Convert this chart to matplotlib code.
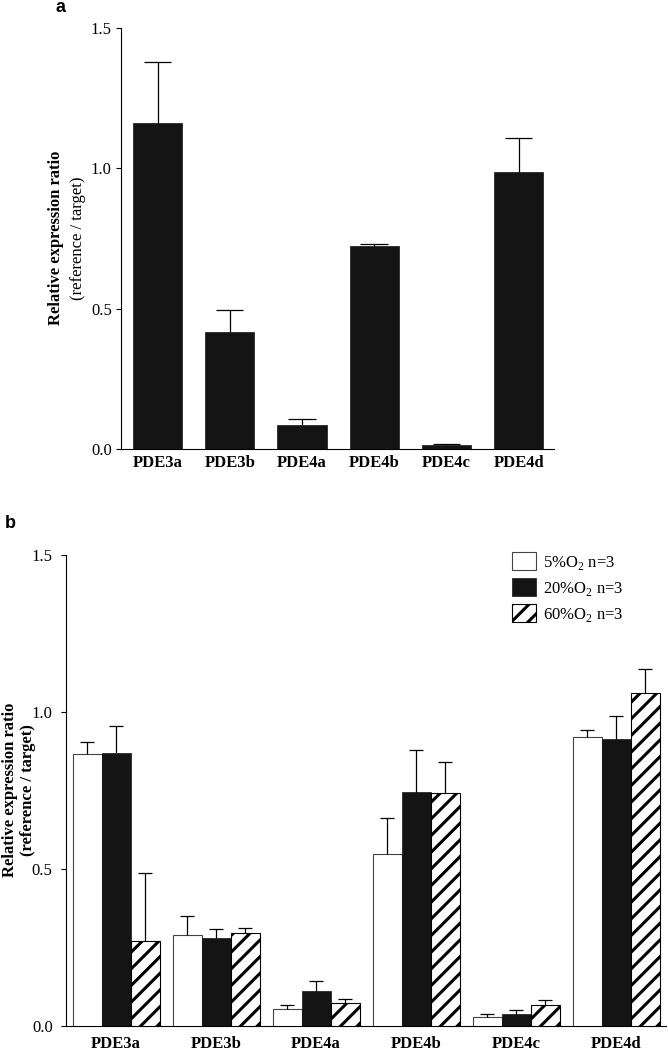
import numpy as np
import matplotlib
matplotlib.use('Agg')
import matplotlib.pyplot as plt

plt.rcParams['font.family'] = ['Liberation Serif', 'DejaVu Serif']
plt.rcParams['hatch.linewidth'] = 2.2

genes = ['PDE3a', 'PDE3b', 'PDE4a', 'PDE4b', 'PDE4c', 'PDE4d']

# panel a: single series with upper error
ratio_a = [1.161, 0.417, 0.085, 0.723, 0.014, 0.987]
err_a = [0.218, 0.078, 0.022, 0.006, 0.005, 0.120]

# panel b: three oxygen conditions
ratio_5 = [0.865, 0.290, 0.054, 0.549, 0.030, 0.919]
err_5 = [0.038, 0.060, 0.012, 0.113, 0.008, 0.024]
ratio_20 = [0.870, 0.281, 0.111, 0.745, 0.038, 0.915]
err_20 = [0.084, 0.028, 0.031, 0.134, 0.012, 0.071]
ratio_60 = [0.272, 0.295, 0.072, 0.742, 0.068, 1.062]
err_60 = [0.214, 0.016, 0.014, 0.099, 0.016, 0.076]

labels_b = [r'5%O$_\mathregular{2}$ n=3', r'20%O$_\mathregular{2}$ n=3', r'60%O$_\mathregular{2}$ n=3']
yticks = [0.0, 0.5, 1.0, 1.5]

W, H = 668, 1050
fig = plt.figure(figsize=(W / 100, H / 100), dpi=100)


def style_axis(ax, pad_y, pad_x):
    ax.spines['top'].set_visible(False)
    ax.spines['right'].set_visible(False)
    for s in ('left', 'bottom'):
        ax.spines[s].set_linewidth(0.8)
    ax.set_ylim(0, 1.5)
    ax.set_yticks(yticks)
    ax.set_yticklabels(['%.1f' % t for t in yticks])
    ax.tick_params(axis='y', direction='out', length=3.6, width=0.8, labelsize=12, pad=pad_y)
    ax.tick_params(axis='x', length=0, labelsize=12, pad=pad_x)
    ax.set_xticks(np.arange(len(genes)))
    ax.set_xticklabels(genes, fontweight='bold')


def upper_err(ax, x, vals, errs, half):
    x = np.asarray(x)
    tops = np.asarray(vals) + np.asarray(errs)
    ax.vlines(x, vals, tops, color='black', linewidth=0.9, zorder=4)
    ax.hlines(tops, x - half, x + half, color='black', linewidth=0.9, zorder=4)


# ---- panel a ----
axa = fig.add_axes([121 / W, 1 - 449 / H, (554 - 121) / W, (449 - 28) / H])
xa = np.arange(len(genes))
axa.bar(xa, ratio_a, width=0.68, color='#141414', edgecolor='#141414', linewidth=0.5, zorder=3)
upper_err(axa, xa, ratio_a, err_a, 0.19)
axa.set_xlim(-0.506, 5.49)
style_axis(axa, 3, 4)
fig.text(56 / W, 1 - 238 / H, 'Relative expression ratio', rotation=90,
         ha='center', va='center', fontsize=12, fontweight='bold')
fig.text(78 / W, 1 - 238 / H, '(reference / target)', rotation=90,
         ha='center', va='center', fontsize=12)
fig.text(61 / W, 1 - 7 / H, 'a', family='Liberation Sans', fontweight='bold',
         fontsize=13, ha='center', va='center')

# ---- panel b ----
axb = fig.add_axes([66 / W, 1 - 1026 / H, (666 - 66) / W, (1026 - 555) / H])
xb = np.arange(len(genes))
bw = 0.29
axb.bar(xb - bw, ratio_5, width=bw, color='white', edgecolor='#444444', linewidth=0.8,
        zorder=3, label=labels_b[0])
axb.bar(xb, ratio_20, width=bw, color='#141414', edgecolor='#141414', linewidth=0.5,
        zorder=3, label=labels_b[1])
axb.bar(xb + bw, ratio_60, width=bw, color='white', edgecolor='black', hatch='//',
        linewidth=0.8, zorder=3, label=labels_b[2])
upper_err(axb, xb - bw, ratio_5, err_5, 0.07)
upper_err(axb, xb, ratio_20, err_20, 0.07)
upper_err(axb, xb + bw, ratio_60, err_60, 0.07)
axb.set_xlim(-0.5, 5.5)
style_axis(axb, 6, 7)
fig.text(10 / W, 1 - 790 / H, 'Relative expression ratio', rotation=90,
         ha='center', va='center', fontsize=12, fontweight='bold')
fig.text(28 / W, 1 - 790 / H, '(reference / target)', rotation=90,
         ha='center', va='center', fontsize=12, fontweight='bold')
fig.text(10 / W, 1 - 524 / H, 'b', family='Liberation Sans', fontweight='bold',
         fontsize=13, ha='center', va='center')

fig.legend(loc='upper left', bbox_to_anchor=(512 / W, 1 - 552 / H), frameon=False,
           fontsize=12, handlelength=1.45, handleheight=1.3, labelspacing=0.38,
           handletextpad=0.4, borderpad=0, borderaxespad=0)

fig.savefig('out.png', dpi=100)
